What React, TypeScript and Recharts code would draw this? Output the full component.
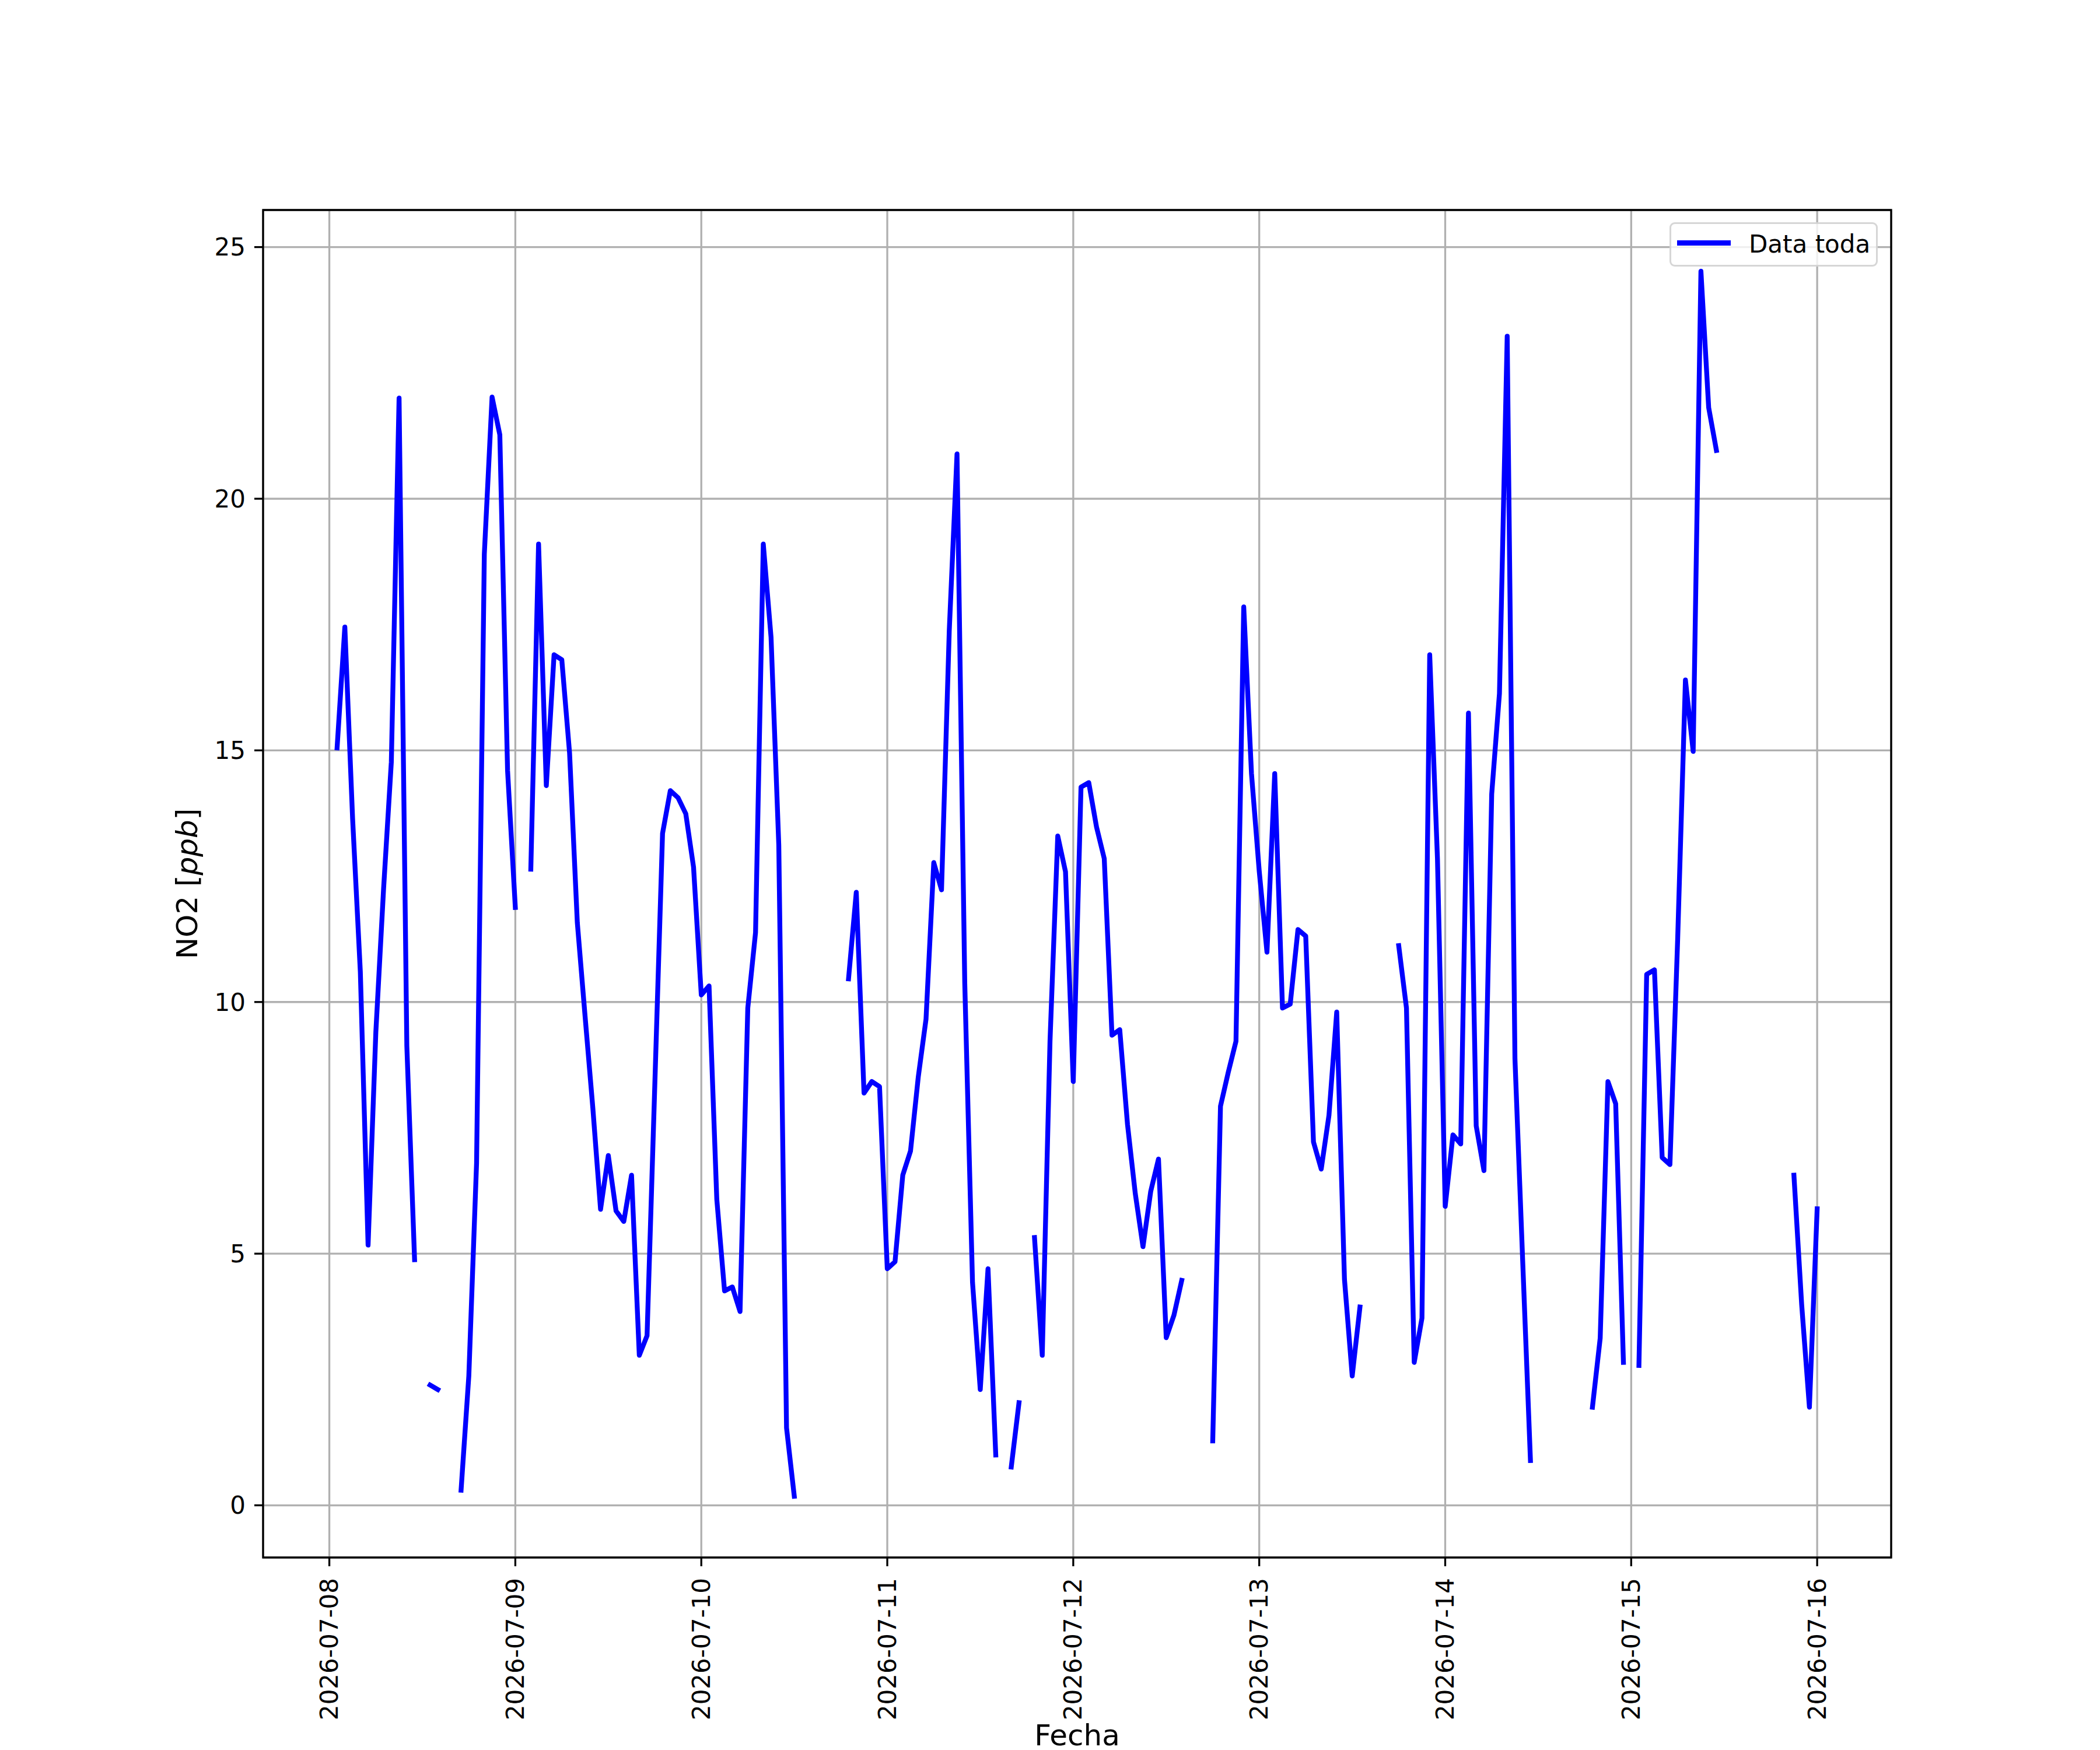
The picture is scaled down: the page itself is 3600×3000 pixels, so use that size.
import React from "react";
import { LineChart, Line, XAxis, YAxis, CartesianGrid, Legend, ReferenceArea } from "recharts";

const FONT = "'DejaVu Sans', sans-serif";

// hourly NO2 readings (ppb), one array per day, null = missing hour
const NO2_0708 = [null, 15.05, 17.45, 13.65, 10.6, 5.17, 9.4, 12.25, 14.77, 22.0, 9.13, 4.88, null, 2.39, 2.3, null, null, 0.3, 2.57, 6.8, 18.9, 22.02, 21.27, 14.6];
const NO2_0709 = [11.88, null, 12.64, 19.1, 14.3, 16.9, 16.8, 14.95, 11.58, 9.72, 7.9, 5.88, 6.95, 5.85, 5.64, 6.56, 2.98, 3.37, 8.35, 13.35, 14.2, 14.06, 13.74, 12.68];
const NO2_0710 = [10.14, 10.32, 6.08, 4.26, 4.34, 3.85, 9.88, 11.38, 19.1, 17.25, 13.12, 1.54, 0.18, null, null, null, null, null, null, 10.46, 12.18, 8.19, 8.42, 8.32];
const NO2_0711 = [4.7, 4.84, 6.56, 7.04, 8.51, 9.66, 12.77, 12.23, 17.38, 20.89, 10.37, 4.43, 2.3, 4.7, 1.0, null, 0.76, 2.04, null, 5.32, 2.98, 9.22, 13.3, 12.59];
const NO2_0712 = [8.42, 14.27, 14.36, 13.48, 12.85, 9.34, 9.45, 7.57, 6.2, 5.14, 6.24, 6.88, 3.33, 3.78, 4.47, null, null, null, 1.28, 7.93, 8.6, 9.22, 17.85, 14.54];
const NO2_0713 = [12.6, 10.99, 14.54, 9.88, 9.96, 11.44, 11.31, 7.22, 6.68, 7.75, 9.8, 4.49, 2.57, 3.94, null, null, null, null, 11.12, 9.88, 2.84, 3.72, 16.9, 12.85];
const NO2_0714 = [5.94, 7.36, 7.18, 15.74, 7.54, 6.65, 14.13, 16.13, 23.23, 8.87, 4.85, 0.89, null, null, null, null, null, null, null, 1.95, 3.32, 8.42, 7.98, 2.84];
const NO2_0715 = [null, 2.78, 10.55, 10.64, 6.91, 6.77, 11.26, 16.4, 14.98, 24.52, 21.81, 20.96, null, null, null, null, null, null, null, null, null, 6.56, 3.99, 1.95];
const NO2_0716 = [5.89];

const DAY_LABELS = ["2026-07-08", "2026-07-09", "2026-07-10", "2026-07-11", "2026-07-12", "2026-07-13", "2026-07-14", "2026-07-15", "2026-07-16"];
const DAY_TICKS = [0, 24, 48, 72, 96, 120, 144, 168, 192];
const Y_TICKS = [0, 5, 10, 15, 20, 25];

const hourly: (number | null)[] = [
  ...NO2_0708, ...NO2_0709, ...NO2_0710, ...NO2_0711,
  ...NO2_0712, ...NO2_0713, ...NO2_0714, ...NO2_0715, ...NO2_0716,
];
const chartData = hourly.map((v, i) => ({ hora: i, no2: v }));

// matplotlib-like autoscale with 5% margins
const valid = chartData.filter((d) => d.no2 !== null) as { hora: number; no2: number }[];
const xMin = Math.min(...valid.map((d) => d.hora));
const xMax = Math.max(...valid.map((d) => d.hora));
const yMin = Math.min(...valid.map((d) => d.no2));
const yMax = Math.max(...valid.map((d) => d.no2));
const X_DOMAIN = [xMin - 0.05 * (xMax - xMin), xMax + 0.05 * (xMax - xMin)];
const Y_DOMAIN = [yMin - 0.05 * (yMax - yMin), yMax + 0.05 * (yMax - yMin)];

function dayLabel(v: number) {
  return DAY_LABELS[DAY_TICKS.indexOf(v)] ?? "";
}

function RotatedTick(props: any) {
  const { x, y, payload } = props;
  return (
    <text
      x={x}
      y={y}
      transform={`rotate(-90, ${x}, ${y})`}
      textAnchor="end"
      dominantBaseline="central"
      fontSize={42}
      fontFamily={FONT}
      fill="#000"
    >
      {dayLabel(payload.value)}
    </text>
  );
}

function LegendBox() {
  return (
    <div
      style={{
        boxSizing: "border-box",
        width: 357,
        height: 76,
        border: "3.5px solid rgba(204,204,204,0.8)",
        borderRadius: 9,
        background: "rgba(255,255,255,0.8)",
        display: "flex",
        alignItems: "center",
        paddingLeft: 10,
      }}
    >
      <div style={{ width: 92, height: 8.3, background: "#0000ff", marginTop: -5 }} />
      <span style={{ marginLeft: 31, fontFamily: FONT, fontSize: 42, color: "#000", lineHeight: 1 }}>Data toda</span>
    </div>
  );
}

export default function App() {
  return (
    <div style={{ position: "absolute", left: 0, top: 0, width: 3600, height: 3000, background: "#fff" }}>
      <LineChart width={3600} height={3000} data={chartData} margin={{ top: 360, right: 358, bottom: 30, left: 0 }}>
        <CartesianGrid stroke="#b0b0b0" strokeWidth={3.3} />
        <XAxis
          dataKey="hora"
          type="number"
          domain={X_DOMAIN}
          allowDataOverflow
          ticks={DAY_TICKS}
          interval={0}
          height={300}
          axisLine={false}
          tickLine={{ stroke: "#000", strokeWidth: 3.3 }}
          tickSize={15}
          tickMargin={20}
          tick={<RotatedTick />}
          label={{
            content: (p: any) => {
              const vb = p.viewBox;
              return (
                <text x={vb.x + vb.width / 2} y={vb.y + vb.height + 22} textAnchor="middle" fontSize={50} fontFamily={FONT} fill="#000">
                  Fecha
                </text>
              );
            },
          }}
        />
        <YAxis
          type="number"
          domain={Y_DOMAIN}
          allowDataOverflow
          ticks={Y_TICKS}
          interval={0}
          width={451}
          axisLine={false}
          tickLine={{ stroke: "#000", strokeWidth: 3.3 }}
          tickSize={15}
          tickMargin={15}
          tick={{ fill: "#000", fontSize: 42, fontFamily: FONT }}
          label={{
            content: (p: any) => {
              const vb = p.viewBox;
              const cx = vb.x + 338;
              const cy = vb.y + vb.height / 2;
              return (
                <text x={cx} y={cy} transform={`rotate(-90, ${cx}, ${cy})`} textAnchor="middle" fontSize={50} fontFamily={FONT} fill="#000">
                  <tspan>NO2 [</tspan>
                  <tspan fontStyle="italic">ppb</tspan>
                  <tspan>]</tspan>
                </text>
              );
            },
          }}
        />
        <Line
          type="linear"
          dataKey="no2"
          name="Data toda"
          stroke="#0000ff"
          strokeWidth={8.3}
          strokeLinecap="square"
          strokeLinejoin="round"
          dot={false}
          activeDot={false}
          connectNulls={false}
          isAnimationActive={false}
        />
        <ReferenceArea
          x1={X_DOMAIN[0]}
          x2={X_DOMAIN[1]}
          y1={Y_DOMAIN[0]}
          y2={Y_DOMAIN[1]}
          fill="none"
          stroke="#000"
          strokeWidth={3.3}
          ifOverflow="visible"
        />
        <Legend
          layout="horizontal"
          align="center"
          verticalAlign="middle"
          content={() => <LegendBox />}
          wrapperStyle={{ top: 381, left: 2862, width: 357, height: 76 }}
        />
      </LineChart>
    </div>
  );
}
